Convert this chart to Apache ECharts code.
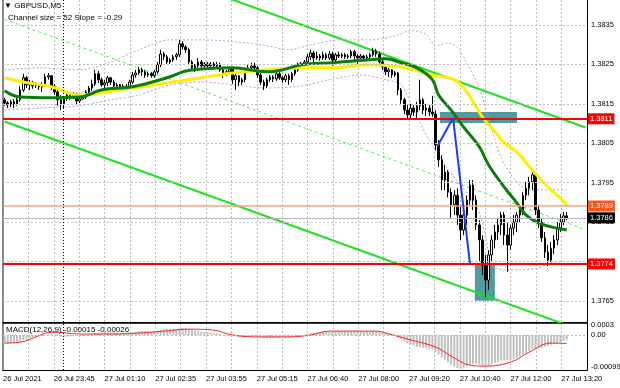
<!DOCTYPE html>
<html><head><meta charset="utf-8">
<script src="https://cdn.jsdelivr.net/npm/echarts@6/dist/echarts.min.js"></script>
<style>html,body{margin:0;padding:0;background:#fff}#c{width:620px;height:388px}</style>
</head><body><div id="c"></div>
<script>
// GBPUSD M5 candles: [open, close, low, high]
const candles = [
[1.38160,1.38152,1.38145,1.38165],[1.38152,1.38147,1.38139,1.38157],[1.38147,1.38155,1.38142,1.38160],[1.38155,1.38150,1.38139,1.38162],[1.38150,1.38160,1.38145,1.38167],
[1.38160,1.38185,1.38155,1.38195],[1.38185,1.38216,1.38180,1.38226],[1.38216,1.38198,1.38190,1.38221],[1.38198,1.38203,1.38185,1.38211],[1.38203,1.38195,1.38188,1.38208],
[1.38195,1.38200,1.38190,1.38205],[1.38200,1.38193,1.38185,1.38203],[1.38193,1.38198,1.38180,1.38205],[1.38198,1.38218,1.38193,1.38226],[1.38218,1.38221,1.38211,1.38228],
[1.38221,1.38195,1.38185,1.38223],[1.38195,1.38180,1.38172,1.38200],[1.38180,1.38160,1.38145,1.38185],[1.38160,1.38150,1.38134,1.38172],[1.38150,1.38165,1.38139,1.38170],
[1.38165,1.38172,1.38157,1.38180],[1.38172,1.38167,1.38160,1.38178],[1.38167,1.38175,1.38162,1.38180],[1.38175,1.38157,1.38147,1.38178],[1.38157,1.38162,1.38152,1.38167],
[1.38162,1.38167,1.38160,1.38172],[1.38167,1.38180,1.38162,1.38185],[1.38180,1.38190,1.38172,1.38195],[1.38190,1.38200,1.38183,1.38211],[1.38200,1.38226,1.38195,1.38236],
[1.38226,1.38211,1.38203,1.38233],[1.38211,1.38198,1.38193,1.38216],[1.38198,1.38203,1.38190,1.38211],[1.38203,1.38216,1.38195,1.38221],[1.38216,1.38205,1.38198,1.38218],
[1.38205,1.38195,1.38190,1.38211],[1.38195,1.38198,1.38190,1.38203],[1.38198,1.38193,1.38188,1.38200],[1.38193,1.38195,1.38190,1.38200],[1.38195,1.38190,1.38185,1.38200],
[1.38190,1.38205,1.38188,1.38211],[1.38205,1.38223,1.38200,1.38231],[1.38223,1.38228,1.38216,1.38236],[1.38228,1.38236,1.38223,1.38243],[1.38236,1.38231,1.38221,1.38241],
[1.38231,1.38223,1.38216,1.38236],[1.38223,1.38226,1.38218,1.38231],[1.38226,1.38221,1.38216,1.38231],[1.38221,1.38231,1.38216,1.38236],[1.38231,1.38249,1.38226,1.38256],
[1.38249,1.38276,1.38243,1.38287],[1.38276,1.38269,1.38261,1.38282],[1.38269,1.38256,1.38251,1.38274],[1.38256,1.38261,1.38251,1.38266],[1.38261,1.38269,1.38256,1.38274],
[1.38269,1.38274,1.38261,1.38279],[1.38274,1.38302,1.38269,1.38312],[1.38302,1.38294,1.38287,1.38309],[1.38294,1.38287,1.38279,1.38299],[1.38287,1.38256,1.38249,1.38292],
[1.38256,1.38241,1.38236,1.38261],[1.38241,1.38246,1.38231,1.38251],[1.38246,1.38256,1.38241,1.38266],[1.38256,1.38246,1.38241,1.38261],[1.38246,1.38251,1.38236,1.38256],
[1.38251,1.38246,1.38241,1.38256],[1.38246,1.38251,1.38241,1.38256],[1.38251,1.38246,1.38238,1.38256],[1.38246,1.38249,1.38241,1.38256],[1.38249,1.38236,1.38231,1.38254],
[1.38236,1.38226,1.38216,1.38241],[1.38226,1.38231,1.38221,1.38236],[1.38231,1.38238,1.38226,1.38243],[1.38238,1.38211,1.38200,1.38243],[1.38211,1.38221,1.38185,1.38226],
[1.38221,1.38205,1.38195,1.38223],[1.38205,1.38211,1.38198,1.38216],[1.38211,1.38236,1.38205,1.38241],[1.38236,1.38241,1.38231,1.38249],[1.38241,1.38246,1.38236,1.38254],
[1.38246,1.38241,1.38233,1.38254],[1.38241,1.38223,1.38216,1.38246],[1.38223,1.38205,1.38198,1.38228],[1.38205,1.38195,1.38185,1.38211],[1.38195,1.38211,1.38190,1.38216],
[1.38211,1.38218,1.38205,1.38223],[1.38218,1.38213,1.38205,1.38223],[1.38213,1.38226,1.38208,1.38231],[1.38226,1.38216,1.38211,1.38231],[1.38216,1.38211,1.38203,1.38221],
[1.38211,1.38221,1.38205,1.38226],[1.38221,1.38211,1.38198,1.38226],[1.38211,1.38226,1.38205,1.38231],[1.38226,1.38236,1.38221,1.38241],[1.38236,1.38246,1.38231,1.38254],
[1.38246,1.38251,1.38241,1.38256],[1.38251,1.38256,1.38246,1.38261],[1.38256,1.38269,1.38251,1.38276],[1.38269,1.38279,1.38261,1.38287],[1.38279,1.38266,1.38256,1.38284],
[1.38266,1.38271,1.38261,1.38282],[1.38271,1.38266,1.38259,1.38276],[1.38266,1.38274,1.38261,1.38282],[1.38274,1.38266,1.38261,1.38279],[1.38266,1.38276,1.38261,1.38284],
[1.38276,1.38261,1.38246,1.38282],[1.38261,1.38274,1.38256,1.38279],[1.38274,1.38271,1.38266,1.38282],[1.38271,1.38274,1.38266,1.38279],[1.38274,1.38269,1.38264,1.38279],
[1.38269,1.38271,1.38264,1.38276],[1.38271,1.38282,1.38266,1.38287],[1.38282,1.38271,1.38256,1.38287],[1.38271,1.38266,1.38251,1.38276],[1.38266,1.38271,1.38261,1.38276],
[1.38271,1.38266,1.38259,1.38274],[1.38266,1.38269,1.38261,1.38274],[1.38269,1.38274,1.38264,1.38279],[1.38274,1.38284,1.38269,1.38292],[1.38284,1.38276,1.38269,1.38289],
[1.38276,1.38256,1.38249,1.38282],[1.38256,1.38243,1.38236,1.38261],[1.38243,1.38231,1.38223,1.38249],[1.38231,1.38236,1.38218,1.38241],[1.38236,1.38223,1.38216,1.38238],
[1.38223,1.38228,1.38218,1.38233],[1.38228,1.38185,1.38172,1.38231],[1.38185,1.38160,1.38150,1.38190],[1.38160,1.38134,1.38124,1.38165],[1.38134,1.38122,1.38114,1.38147],
[1.38122,1.38139,1.38114,1.38150],[1.38139,1.38129,1.38119,1.38147],[1.38129,1.38145,1.38114,1.38155],[1.38145,1.38160,1.38134,1.38211],[1.38160,1.38134,1.38124,1.38165],
[1.38134,1.38139,1.38119,1.38150],[1.38139,1.38129,1.38119,1.38147],[1.38129,1.38124,1.38117,1.38170],[1.38124,1.38046,1.38033,1.38134],[1.38046,1.38008,1.37990,1.38058],
[1.38008,1.37957,1.37931,1.38020],[1.37957,1.37977,1.37931,1.37995],[1.37977,1.37926,1.37913,1.37982],[1.37926,1.37894,1.37861,1.37936],[1.37894,1.37918,1.37868,1.37931],
[1.37918,1.37868,1.37843,1.37936],[1.37868,1.37830,1.37805,1.37894],[1.37830,1.37868,1.37817,1.37881],[1.37868,1.37906,1.37843,1.37918],[1.37906,1.37944,1.37894,1.37957],
[1.37944,1.37906,1.37881,1.37957],[1.37906,1.37843,1.37830,1.37918],[1.37843,1.37805,1.37749,1.37855],[1.37805,1.37741,1.37716,1.37817],[1.37741,1.37703,1.37660,1.37767],
[1.37703,1.37767,1.37678,1.37779],[1.37767,1.37805,1.37749,1.37817],[1.37805,1.37825,1.37784,1.37843],[1.37825,1.37843,1.37805,1.37861],[1.37843,1.37868,1.37817,1.37876],
[1.37868,1.37817,1.37792,1.37876],[1.37817,1.37792,1.37724,1.37850],[1.37792,1.37835,1.37779,1.37843],[1.37835,1.37850,1.37817,1.37868],[1.37850,1.37868,1.37825,1.37876],
[1.37868,1.37881,1.37850,1.37894],[1.37881,1.37918,1.37868,1.37926],[1.37918,1.37936,1.37906,1.37952],[1.37936,1.37952,1.37918,1.37965],[1.37952,1.37970,1.37931,1.37982],
[1.37970,1.37881,1.37868,1.37977],[1.37881,1.37850,1.37835,1.37894],[1.37850,1.37810,1.37800,1.37861],[1.37810,1.37774,1.37759,1.37825],[1.37774,1.37754,1.37739,1.37792],
[1.37754,1.37784,1.37749,1.37800],[1.37784,1.37805,1.37769,1.37817],[1.37805,1.37835,1.37792,1.37850],[1.37835,1.37850,1.37825,1.37871],[1.37850,1.37866,1.37843,1.37876],
[1.37866,1.37861,1.37855,1.37876]
];
const barSlots = 187; // bar slots incl. empty right shift
const timeLabels = ['26 Jul 2021','26 Jul 23:45','27 Jul 01:10','27 Jul 02:35','27 Jul 03:55','27 Jul 05:15','27 Jul 06:40','27 Jul 08:00','27 Jul 09:20','27 Jul 10:40','27 Jul 12:00','27 Jul 13:20'];
const priceTicks = [1.3765,1.3775,1.3785,1.3795,1.3805,1.3815,1.3825,1.3835];

// moving averages (bar index, price)
const maYellowBars = [0,6,15,24,31,41,52,63,73,84,95,105,116,127,137,144,148,151,153,157,160,164,169,174,178,180];
const maYellowVals = [1.38216,1.38205,1.38193,1.38172,1.38178,1.38190,1.38203,1.38216,1.38228,1.38236,1.38241,1.38241,1.38249,1.38243,1.38223,1.38211,1.38180,1.38142,1.38117,1.38079,1.38051,1.38028,1.37982,1.37939,1.37911,1.37893];
const maGreenBars = [0,5,15,24,31,41,52,58,63,73,84,89,95,105,116,122,127,132,137,139,143,147,152,155,160,164,167,171,175,180];
const maGreenVals = [1.38183,1.38167,1.38165,1.38167,1.38185,1.38193,1.38216,1.38233,1.38238,1.38241,1.38231,1.38236,1.38249,1.38254,1.38261,1.38264,1.38254,1.38241,1.38211,1.38172,1.38134,1.38091,1.38041,1.37995,1.37939,1.37899,1.37868,1.37848,1.37838,1.37830];
// envelope bands (dotted purple)
const bandUpBars = [0,11,24,34,43,53,63,74,83,91,98,107,117,125,130,135,138,142,145,148,152,155,159,164,168,173,180];
const bandUpVals = [1.38236,1.38241,1.38236,1.38256,1.38287,1.38312,1.38312,1.38307,1.38299,1.38287,1.38299,1.38312,1.38312,1.38322,1.38335,1.38327,1.38297,1.38304,1.38292,1.38254,1.38190,1.38114,1.38013,1.37952,1.37932,1.37932,1.37932];
const bandLoBars = [0,11,24,34,43,53,63,74,83,95,104,114,122,127,131,136,141,146,151,154,156,160,165,171,176,180];
const bandLoVals = [1.38134,1.38139,1.38145,1.38160,1.38172,1.38198,1.38205,1.38198,1.38190,1.38195,1.38211,1.38223,1.38211,1.38198,1.38134,1.38058,1.37995,1.37944,1.37894,1.37817,1.37741,1.37729,1.37729,1.37734,1.37749,1.37739];
// regression channel (ends at bar 0 and bar 186)
const channelBars = [0,186];
const channelUpper = [1.38623,1.38090];
const channelMiddle = [1.38364,1.37831];
const channelLower = [1.38105,1.37572];
// blue zigzag
const zigBars = [138.5,143.6,149.0];
const zigVals = [1.38041,1.38114,1.37746];
// horizontal levels
const redLevels = [1.38112,1.37744];
const orangeLevel = 1.37891;
const bidPrice = 1.37861;
// rectangles [barFrom, barTo, priceTop, priceBottom]
const boxes = [[139.4,164.1,1.38129,1.38101],[150.6,157.0,1.37746,1.37651]];
const daySeparatorBar = 18.7;

// MACD(12,26,9)
const macdHist = [
-0.00025,-0.00026,-0.00025,-0.00024,-0.00022,-0.00020,-0.00016,-0.00013,-0.00010,-0.00008,
-0.00006,-0.00005,-0.00004,-0.00001,0.00001,0.00002,0.00000,-0.00003,-0.00006,-0.00006,
-0.00005,-0.00004,-0.00003,-0.00004,-0.00004,-0.00003,-0.00001,0.00001,0.00003,0.00006,
0.00007,0.00007,0.00007,0.00008,0.00008,0.00007,0.00006,0.00006,0.00005,0.00005,
0.00006,0.00008,0.00010,0.00012,0.00012,0.00012,0.00012,0.00011,0.00012,0.00014,
0.00017,0.00018,0.00018,0.00018,0.00018,0.00018,0.00020,0.00021,0.00021,0.00019,
0.00016,0.00014,0.00013,0.00011,0.00010,0.00008,0.00007,0.00006,0.00005,0.00003,
0.00001,-0.00001,-0.00002,-0.00004,-0.00005,-0.00007,-0.00008,-0.00007,-0.00005,-0.00004,
-0.00004,-0.00005,-0.00007,-0.00009,-0.00009,-0.00009,-0.00009,-0.00008,-0.00008,-0.00008,
-0.00008,-0.00008,-0.00007,-0.00005,-0.00003,-0.00001,0.00001,0.00003,0.00006,0.00007,
0.00008,0.00009,0.00010,0.00010,0.00011,0.00011,0.00011,0.00012,0.00012,0.00012,
0.00012,0.00013,0.00013,0.00012,0.00012,0.00012,0.00012,0.00012,0.00013,0.00013,
0.00011,0.00008,0.00005,0.00002,-0.00001,-0.00003,-0.00008,-0.00013,-0.00020,-0.00026,
-0.00030,-0.00033,-0.00036,-0.00037,-0.00040,-0.00042,-0.00044,-0.00045,-0.00052,-0.00060,
-0.00070,-0.00076,-0.00084,-0.00092,-0.00097,-0.00102,-0.00104,-0.00103,-0.00098,-0.00092,
-0.00089,-0.00089,-0.00091,-0.00094,-0.00097,-0.00094,-0.00090,-0.00086,-0.00083,-0.00079,
-0.00078,-0.00078,-0.00076,-0.00073,-0.00070,-0.00066,-0.00061,-0.00056,-0.00050,-0.00044,
-0.00043,-0.00041,-0.00040,-0.00036,-0.00033,-0.00030,-0.00028,-0.00026,-0.00022,-0.00018,
-0.00015
];
const signalBars = [0,5,16,24,34,43,51,59,67,73,82,91,98,104,119,122,130,138,143,149,154,162,168,175,180];
const signalVals = [-0.00025,-0.00022,0.00009,0.00003,0.00003,0.00006,0.00012,0.00018,0.00015,0,-0.00006,-0.00006,0,0.00012,0.00012,0.00006,-0.00015,-0.00037,-0.00065,-0.00093,-0.00096,-0.00084,-0.00053,-0.00025,-0.00026];
const macdTicks = [0.0003,0,-0.00099];
const macdTickLabels = ['0.0003','0.00','-0.00099'];

const FONT = '"Liberation Sans", Arial, sans-serif';
const FS = 7.5;
const gridStep = 8.127; // vertical grid spacing in bar slots
const cats = Array.from({length: barSlots}, (_, i) => String(i));
const pts = (b, v) => b.map((x, i) => [x, v[i]]);

const chart = echarts.init(document.getElementById('c'), null, {renderer: 'canvas', width: 620, height: 388});

const hiddenLine = {type: 'line', data: [], silent: true, clip: false, symbol: 'none'};
const noSym = ['none', 'none'];
const GRIDC = '#bcbcbc';

const option = {
  animation: false,
  textStyle: {fontFamily: FONT},
  title: [
    {text: '\u25BC GBPUSD,M5', left: 4, top: 2, padding: 0, textStyle: {fontSize: 8, fontWeight: 'normal', color: '#000', fontFamily: FONT}},
    {text: 'Channel size = 52 Slope = -0.29', left: 8, top: 14, padding: 0, textStyle: {fontSize: 8, fontWeight: 'normal', color: '#000', fontFamily: FONT}},
    {text: 'MACD(12,26,9) -0.00015 -0.00026', left: 6, top: 326, padding: 0, textStyle: {fontSize: 8, fontWeight: 'normal', color: '#000', fontFamily: FONT}}
  ],
  grid: [
    {left: 3, top: 0, width: 584, height: 322},
    {left: 3, top: 323, width: 584, height: 47}
  ],
  xAxis: [
    {type: 'category', gridIndex: 0, data: cats, boundaryGap: true, show: false, position: 'bottom'},
    {type: 'value', gridIndex: 0, min: -0.5, max: barSlots - 0.5, show: false, position: 'bottom'},
    {type: 'value', gridIndex: 0, min: 0, max: barSlots, interval: gridStep, position: 'bottom',
      axisLine: {show: true, onZero: false, lineStyle: {color: '#000', width: 1}},
      axisTick: {show: false}, axisLabel: {show: false},
      splitLine: {show: true, lineStyle: {color: GRIDC, width: 1, type: [2, 2]}}},
    {type: 'category', gridIndex: 1, data: cats, boundaryGap: true, show: false, position: 'bottom'},
    {type: 'value', gridIndex: 1, min: -0.5, max: barSlots - 0.5, position: 'top',
      axisLine: {show: true, onZero: false, lineStyle: {color: '#000', width: 1.5}},
      axisTick: {show: false}, axisLabel: {show: false}, splitLine: {show: false}},
    {type: 'value', gridIndex: 1, min: 0, max: barSlots, interval: gridStep, position: 'bottom',
      axisLine: {show: true, onZero: false, lineStyle: {color: '#000', width: 1}},
      axisTick: {show: false},
      axisLabel: {show: true, align: 'left', margin: 5, fontSize: FS, color: '#000', fontFamily: FONT,
        showMinLabel: true, showMaxLabel: false,
        formatter: v => { const k = Math.round(v / gridStep); return (k % 2 === 0 && timeLabels[k / 2]) ? timeLabels[k / 2] : ''; }},
      splitLine: {show: true, lineStyle: {color: GRIDC, width: 1, type: [2, 2]}}}
  ],
  yAxis: [
    {type: 'value', gridIndex: 0, min: 1.37597, max: 1.38413, position: 'right',
      axisLine: {show: true, onZero: false, lineStyle: {color: '#000', width: 1}},
      axisTick: {show: false}, axisLabel: {show: false}, splitLine: {show: false}},
    {type: 'value', gridIndex: 1, min: -0.00108, max: 0.00037, position: 'right',
      axisLine: {show: true, onZero: false, lineStyle: {color: '#000', width: 1}},
      axisTick: {show: false}, axisLabel: {show: false}, splitLine: {show: false}},
    {type: 'value', gridIndex: 0, min: 0, max: 1, position: 'left',
      axisLine: {show: true, onZero: false, lineStyle: {color: '#888', width: 2}},
      axisTick: {show: false}, axisLabel: {show: false}, splitLine: {show: false}},
    {type: 'value', gridIndex: 1, min: 0, max: 1, position: 'left',
      axisLine: {show: true, onZero: false, lineStyle: {color: '#888', width: 2}},
      axisTick: {show: false}, axisLabel: {show: false}, splitLine: {show: false}}
  ],
  series: [
    // price grid lines + labels, rectangles
    Object.assign({}, hiddenLine, {
      name: 'grid', xAxisIndex: 1, yAxisIndex: 0, z: 1,
      markLine: {silent: true, symbol: noSym, animation: false, precision: 6,
        lineStyle: {color: GRIDC, width: 1, type: [2, 2]},
        label: {show: true, position: 'end', distance: 4, color: '#000', fontSize: FS, fontFamily: FONT,
          formatter: p => Number(p.value).toFixed(4)},
        data: priceTicks.map(v => ({yAxis: v}))},
      markArea: {silent: true, animation: false, itemStyle: {color: '#4f9c9e'},
        data: boxes.map(b => [{xAxis: b[0], yAxis: b[2]}, {xAxis: b[1], yAxis: b[3]}])}
    }),
    // channel
    {type: 'line', xAxisIndex: 1, yAxisIndex: 0, z: 2, symbol: 'none', silent: true,
      data: pts(channelBars, channelUpper), lineStyle: {color: '#1ee01e', width: 2}},
    {type: 'line', xAxisIndex: 1, yAxisIndex: 0, z: 2, symbol: 'none', silent: true,
      data: pts(channelBars, channelLower), lineStyle: {color: '#1ee01e', width: 2}},
    {type: 'line', xAxisIndex: 1, yAxisIndex: 0, z: 2, symbol: 'none', silent: true,
      data: pts(channelBars, channelMiddle), lineStyle: {color: '#4ee84e', width: 1, type: [3, 3]}},
    // bands
    {type: 'line', xAxisIndex: 1, yAxisIndex: 0, z: 2, symbol: 'none', silent: true, smooth: 0.3,
      data: pts(bandUpBars, bandUpVals), lineStyle: {color: '#c890e6', width: 1, type: [2, 2]}},
    {type: 'line', xAxisIndex: 1, yAxisIndex: 0, z: 2, symbol: 'none', silent: true, smooth: 0.3,
      data: pts(bandLoBars, bandLoVals), lineStyle: {color: '#c890e6', width: 1, type: [2, 2]}},
    // candles
    {type: 'candlestick', xAxisIndex: 0, yAxisIndex: 0, z: 3, barWidth: 2, silent: true,
      data: candles,
      itemStyle: {color: '#ffffff', color0: '#000000', borderColor: '#000000', borderColor0: '#000000', borderWidth: 1}},
    // moving averages
    {type: 'line', xAxisIndex: 1, yAxisIndex: 0, z: 4, symbol: 'none', silent: true, smooth: 0.4,
      data: pts(maYellowBars, maYellowVals), lineStyle: {color: '#ffee00', width: 3}},
    {type: 'line', xAxisIndex: 1, yAxisIndex: 0, z: 4, symbol: 'none', silent: true, smooth: 0.4,
      data: pts(maGreenBars, maGreenVals), lineStyle: {color: '#0b7d0b', width: 3}},
    // zigzag
    {type: 'line', xAxisIndex: 1, yAxisIndex: 0, z: 5, symbol: 'none', silent: true,
      data: pts(zigBars, zigVals), lineStyle: {color: '#1a3cff', width: 2}},
    // levels and tags
    Object.assign({}, hiddenLine, {
      name: 'levels', xAxisIndex: 1, yAxisIndex: 0, z: 6,
      markLine: {silent: true, symbol: noSym, animation: false, precision: 6,
        label: {show: true, position: 'end', distance: 1, color: '#fff', fontSize: FS, fontFamily: FONT,
          padding: [2, 2, 1, 2], formatter: p => Number(p.value).toFixed(4)},
        data: [
          {yAxis: bidPrice, lineStyle: {color: '#b4b4b4', width: 1, type: 'solid'}, label: {backgroundColor: '#000'}},
          {yAxis: orangeLevel, lineStyle: {color: '#f8a27c', width: 1.5, type: 'solid'}, label: {backgroundColor: '#f4581f'}},
          {yAxis: redLevels[0], lineStyle: {color: '#ff0000', width: 2, type: 'solid'}, label: {backgroundColor: '#ff0000'}},
          {yAxis: redLevels[1], lineStyle: {color: '#ff0000', width: 2, type: 'solid'}, label: {backgroundColor: '#ff0000'}}
        ]}
    }),
    // day separator main
    Object.assign({}, hiddenLine, {
      name: 'sep', xAxisIndex: 1, yAxisIndex: 0, z: 2,
      markLine: {silent: true, symbol: noSym, animation: false, precision: 6, label: {show: false},
        lineStyle: {color: '#000', width: 1, type: [1, 2]}, data: [{xAxis: daySeparatorBar}]}
    }),
    // MACD histogram
    {type: 'bar', xAxisIndex: 3, yAxisIndex: 1, z: 2, barWidth: 2, silent: true,
      data: macdHist, itemStyle: {color: '#c0c0c0'}},
    // MACD signal
    {type: 'line', xAxisIndex: 4, yAxisIndex: 1, z: 4, symbol: 'none', silent: true, smooth: 0.4,
      data: pts(signalBars, signalVals), lineStyle: {color: '#ff2020', width: 1}},
    // MACD labels / zero level / separator
    Object.assign({}, hiddenLine, {
      name: 'macdlab', xAxisIndex: 4, yAxisIndex: 1, z: 5,
      markLine: {silent: true, symbol: noSym, animation: false, precision: 8,
        label: {show: true, position: 'end', distance: 4, color: '#000', fontSize: FS, fontFamily: FONT,
          formatter: p => { const i = macdTicks.findIndex(t => Math.abs(t - Number(p.value)) < 1e-7); return i >= 0 ? macdTickLabels[i] : ''; }},
        data: [
          {yAxis: macdTicks[0], lineStyle: {color: 'rgba(0,0,0,0)', width: 1}},
          {yAxis: macdTicks[1], lineStyle: {color: GRIDC, width: 1, type: [2, 2]}},
          {yAxis: macdTicks[2], lineStyle: {color: 'rgba(0,0,0,0)', width: 1}},
          {xAxis: daySeparatorBar, lineStyle: {color: '#000', width: 1, type: [1, 2]}, label: {show: false}}
        ]}
    })
  ]
};
chart.setOption(option);
</script>
</body></html>
